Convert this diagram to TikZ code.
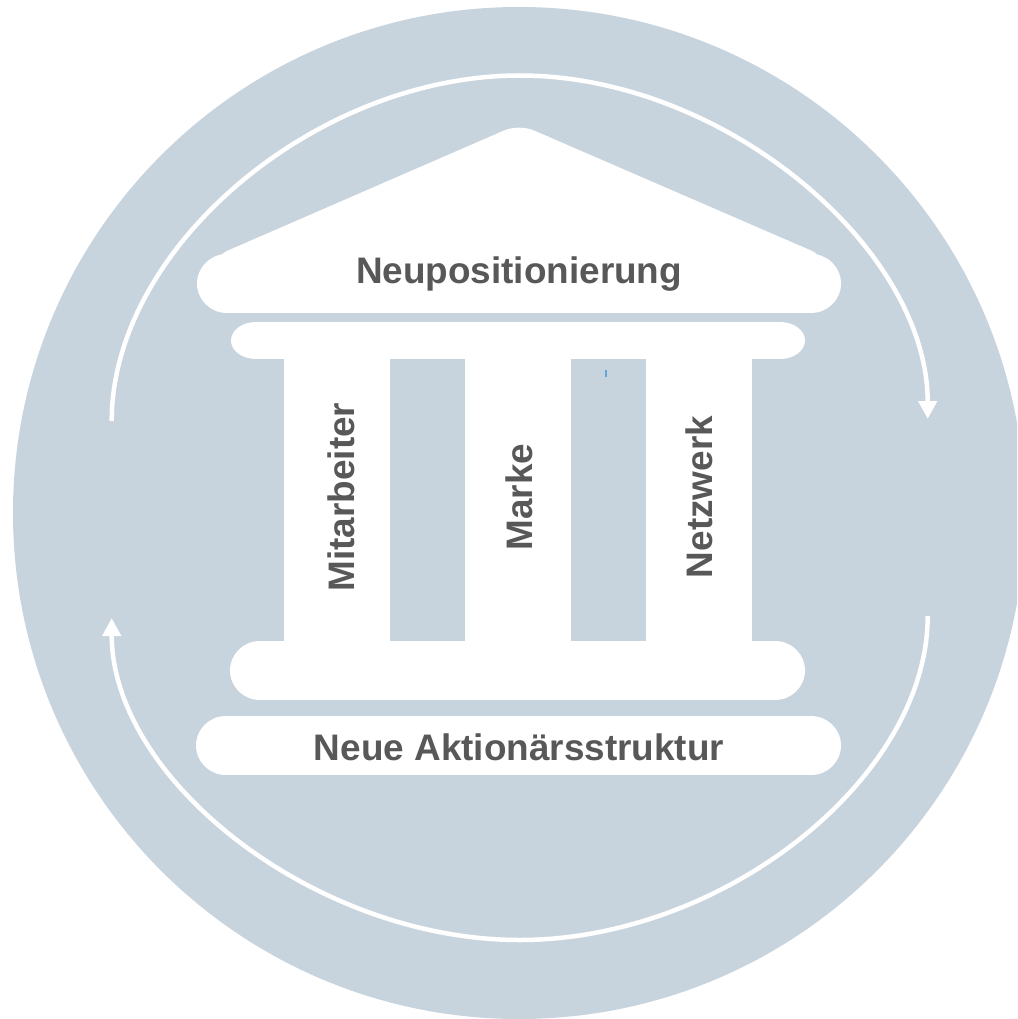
\documentclass[tikz,border=0pt]{standalone}
\usepackage{fontspec}
\setmainfont{Liberation Sans}
\usetikzlibrary{arrows.meta}
\definecolor{ring}{RGB}{200,212,221}
\definecolor{ink}{RGB}{88,88,88}
\definecolor{speck}{RGB}{100,165,215}
\tikzset{
  slab/.style={fill=white},
  txt/.style={text=ink,font=\fontsize{21}{25}\selectfont\bfseries},
  cycle arrow/.style={draw=white,line width=0.9mm,-{Triangle[length=3.6mm,width=3.6mm]}}
}
% bar with elliptic ends: x1, y1, x2, y2, end radius
\newcommand\slab[5]{%
  \fill[slab] (#1+#5,#2) rectangle (#3-#5,#4);
  \fill[slab] (#1+#5,{(#2+#4)/2}) ellipse [x radius=#5,y radius={(#4-#2)/2}];
  \fill[slab] (#3-#5,{(#2+#4)/2}) ellipse [x radius=#5,y radius={(#4-#2)/2}];
}
\begin{document}
\begin{tikzpicture}[x=0.2mm,y=-0.2mm]
  \useasboundingbox (0,0) rectangle (1017,1019);
  \clip (0,0) rectangle (1017,1019);
  \fill[white] (0,0) rectangle (1017,1019);
  \fill[ring] (519,513) circle [radius=506];

  % roof
  \slab{197}{254}{841}{313}{30}
  \fill[slab,rounded corners=9] (213,257) -- (519,124) -- (826,257) -- (826,300) -- (213,300) -- cycle;
  \node[txt,anchor=base] (roof) at (519,283) {Neupositionierung};

  % capital, pillars, base
  \slab{231}{322}{805}{359}{25}
  \foreach \x/\c/\name/\lbl in {284/341/mit/Mitarbeiter, 465/519/mar/Marke, 646/699/net/Netzwerk}{
    \fill[slab] (\x,358) rectangle +(106,284);
    \node[txt,rotate=90] (\name) at (\c,497) {\lbl};
  }
  \draw[speck,line width=0.25mm] (606,370) -- (606,377);
  \slab{230}{641}{805}{700}{30}
  \slab{196}{716}{841}{775}{30}
  \node[txt,anchor=base] (plinth) at (519,760) {Neue Aktionärsstruktur};

  % cycle
  \coordinate (tl) at (111.7,421);
  \coordinate (tm) at (519.7,75.5);
  \coordinate (tr) at (927.7,419);
  \coordinate (br) at (927.7,616);
  \coordinate (bm) at (519.7,940);
  \coordinate (bl) at (111.7,618);
  \draw[cycle arrow] (tl) .. controls (111.7,248) and (315.7,75.5) .. (tm)
    .. controls (723.7,75.5) and (927.7,248) .. (tr);
  \draw[cycle arrow] (br) .. controls (927.7,778) and (723.7,940) .. (bm)
    .. controls (315.7,940) and (111.7,780) .. (bl);
\end{tikzpicture}
\end{document}
